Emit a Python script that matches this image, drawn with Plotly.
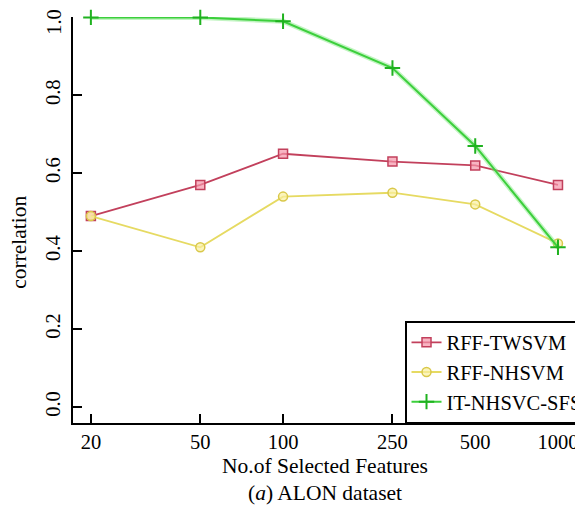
import plotly.graph_objects as go

features = [20, 50, 100, 250, 500, 1000]
tick_labels = ["20", "50", "100", "250", "500", "1000"]
y_ticks = [0, 0.2, 0.4, 0.6, 0.8, 1.0]
y_tick_labels = ["0.0", "0.2", "0.4", "0.6", "0.8", "1.0"]
rff_twsvm = [0.49, 0.57, 0.65, 0.63, 0.62, 0.57]
rff_nhsvm = [0.49, 0.41, 0.54, 0.55, 0.52, 0.42]
it_nhsvc_sfs = [1.00, 1.00, 0.99, 0.87, 0.67, 0.41]

FONT = "'Liberation Serif', 'Times New Roman', serif"

fig = go.Figure()
fig.add_trace(go.Scatter(
    x=features, y=rff_twsvm, name="RFF-TWSVM", mode="lines+markers",
    legendgroup="a",
    line=dict(color="#c2405c", width=1.8),
    marker=dict(symbol="square", size=9, color="rgba(245,150,170,0.7)",
                line=dict(color="#c2405c", width=1.5)),
    cliponaxis=False))
fig.add_trace(go.Scatter(
    x=features, y=rff_nhsvm, name="RFF-NHSVM", mode="lines+markers",
    legendgroup="b",
    line=dict(color="#e6da62", width=1.8),
    marker=dict(symbol="circle", size=9, color="rgba(250,240,160,0.7)",
                line=dict(color="#d9c84a", width=1.5)),
    cliponaxis=False))
fig.add_trace(go.Scatter(
    x=features, y=it_nhsvc_sfs, mode="lines", showlegend=False,
    legendgroup="c",
    line=dict(color="rgba(120,230,120,0.45)", width=5), hoverinfo="skip",
    cliponaxis=False))
fig.add_trace(go.Scatter(
    x=features, y=it_nhsvc_sfs, name="IT-NHSVC-SFS", mode="lines+markers",
    legendgroup="c",
    line=dict(color="#3ccf3c", width=2),
    marker=dict(symbol="cross-thin", size=11,
                line=dict(color="#1fb21f", width=2)),
    cliponaxis=False))

# the top tick label is drawn as an annotation nudged down so it stays inside the page
shown_y_labels = y_tick_labels[:-1] + [""]

fig.update_layout(
    width=575, height=510,
    margin=dict(l=65, r=0, t=9, b=95, autoexpand=False),
    paper_bgcolor="white", plot_bgcolor="white",
    font=dict(family=FONT, size=20, color="black"),
    showlegend=True,
    legend=dict(x=0.651, xanchor="left", y=0, yanchor="bottom",
                bordercolor="black", borderwidth=1.5, bgcolor="white",
                font=dict(family=FONT, size=20.5), itemwidth=30,
                tracegroupgap=0),
    xaxis=dict(type="log", range=[1.236, 3.091], automargin=False,
               tickvals=features, ticktext=tick_labels,
               ticks="inside", ticklen=9, tickwidth=1.5, tickcolor="black",
               showline=True, linecolor="black", linewidth=1.5,
               showgrid=False, zeroline=False, ticklabeloverflow="allow",
               tickfont=dict(family=FONT, size=20.5)),
    yaxis=dict(range=[-0.041, 1.001], automargin=False,
               tickvals=y_ticks, ticktext=shown_y_labels,
               tickangle=-90, ticklabelstandoff=3, ticklabeloverflow="allow",
               ticks="inside", ticklen=9, tickwidth=1.5, tickcolor="black",
               showline=True, linecolor="black", linewidth=1.5,
               showgrid=False, zeroline=False,
               tickfont=dict(family=FONT, size=20.5)),
    annotations=[
        dict(text=y_tick_labels[-1], xref="paper", yref="y", textangle=-90,
             x=-0.0373, y=y_ticks[-1], yshift=-4.5, showarrow=False,
             xanchor="center", yanchor="middle",
             font=dict(family=FONT, size=20.5)),
        dict(text="No.of Selected Features", xref="paper", yref="paper",
             x=0.494, y=-0.106, showarrow=False, xanchor="center", yanchor="middle",
             font=dict(family=FONT, size=21.5)),
        dict(text="(<i>a</i>) ALON dataset", xref="paper", yref="paper",
             x=0.494, y=-0.172, showarrow=False, xanchor="center", yanchor="middle",
             font=dict(family=FONT, size=21.5)),
        dict(text="correlation", xref="paper", yref="paper", textangle=-90,
             x=-0.106, y=0.446, showarrow=False, xanchor="center", yanchor="middle",
             font=dict(family=FONT, size=21.5)),
    ],
)

fig.write_html("out.html")
